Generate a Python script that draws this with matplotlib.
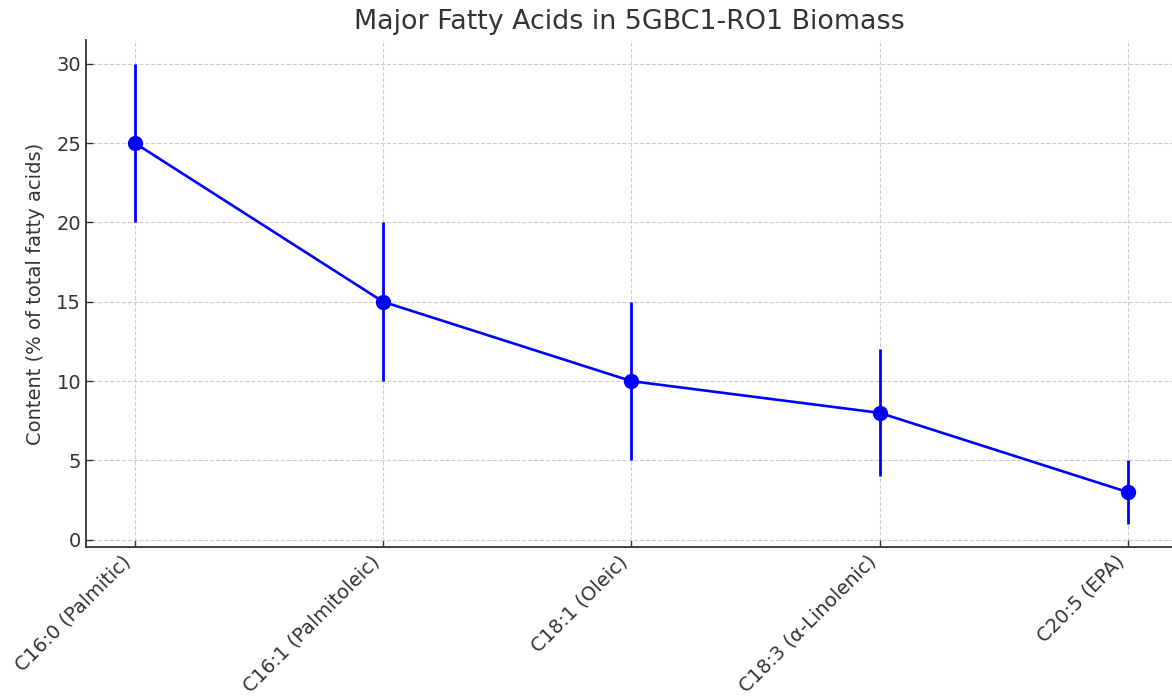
import matplotlib
matplotlib.use("Agg")
import matplotlib.pyplot as plt

# fatty acid profile (mean and spread, % of total fatty acids)
acids = ["C16:0 (Palmitic)", "C16:1 (Palmitoleic)", "C18:1 (Oleic)",
         "C18:3 (α-Linolenic)", "C20:5 (EPA)"]
content = [25, 15, 10, 8, 3]
spread = [5, 5, 5, 4, 2]

text_col = "#333333"
plt.rcParams["font.family"] = "DejaVu Sans"
plt.rcParams["text.color"] = text_col
plt.rcParams["axes.labelcolor"] = text_col
plt.rcParams["xtick.color"] = text_col
plt.rcParams["ytick.color"] = text_col

fig = plt.figure(figsize=(11.72, 6.99), dpi=100)
ax = fig.add_axes([0.0734, 0.2175, 0.9266, 0.7253])

x = list(range(len(acids)))
ax.errorbar(x, content, yerr=spread, fmt="-o", color="blue",
            ecolor="blue", elinewidth=2, linewidth=1.9, markersize=10, capsize=0)

ax.set_xticks(x)
ax.set_xticklabels(acids, rotation=45, ha="right")
ax.set_xlim(-0.197, 4.177)
ax.set_ylim(-0.45, 31.5)
ax.set_yticks([0, 5, 10, 15, 20, 25, 30])

ax.set_title("Major Fatty Acids in 5GBC1-RO1 Biomass", fontsize=19.4, color=text_col, pad=8)
ax.set_ylabel("Content (% of total fatty acids)", fontsize=14, labelpad=8)
ax.tick_params(axis="both", direction="in", labelsize=14, length=5, width=1)

ax.grid(True, linestyle="--", color="#cccccc", linewidth=0.8)
ax.set_axisbelow(True)
for side in ["top", "right"]:
    ax.spines[side].set_visible(False)
for side in ["left", "bottom"]:
    ax.spines[side].set_color(text_col)
    ax.spines[side].set_linewidth(1.3)

fig.savefig("out.png", dpi=100)
